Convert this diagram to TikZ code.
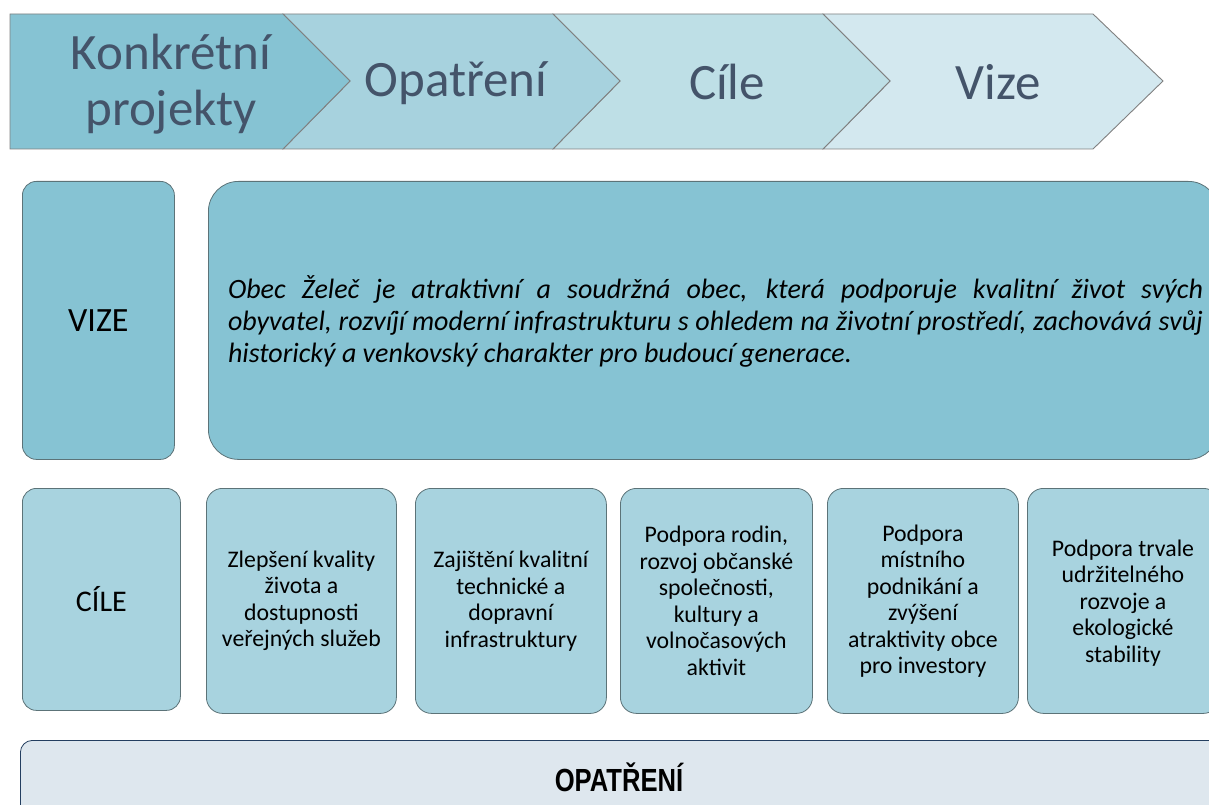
\documentclass[tikz,border=0pt]{standalone}
\usepackage{fontspec}
\setmainfont{Carlito}
\newfontfamily\headfont{Carlito}
\newfontfamily\boldnarrow{Liberation Sans}
\definecolor{cdark}{HTML}{86C3D3}
\definecolor{cgoal}{HTML}{A8D3DF}
\definecolor{ch2}{HTML}{A7D2DE}
\definecolor{ch3}{HTML}{BEDFE6}
\definecolor{ch4}{HTML}{D3E8EF}
\definecolor{cbar}{HTML}{DEE7EE}
\definecolor{cbarline}{HTML}{243F60}
\definecolor{chtext}{HTML}{44546A}
\definecolor{cbox}{HTML}{5C7378}
\definecolor{cchev}{HTML}{808080}
\begin{document}
\begin{tikzpicture}[x=1pt,y=-1pt,
  chev/.style={draw=cchev,line width=0.9pt},
  htext/.style={font=\headfont\fontsize{51}{56}\selectfont,text=chtext,align=center,inner sep=0pt},
  labelbox/.style={draw=cbox,line width=0.8pt,rounded corners=14pt,inner sep=0pt,anchor=north west},
  goalbox/.style={draw=cbox,line width=0.8pt,fill=cgoal,rounded corners=16pt,inner sep=0pt,anchor=north west,align=center,font=\fontsize{23.8}{26.5}\selectfont},
]
\useasboundingbox (0,0) rectangle (1209,805);
% header chevrons
\path[chev,fill=ch4] (1093,14) -- (823,14) -- (890,81) -- (823,149) -- (1093,149) -- (1163,81) -- cycle;
\path[chev,fill=ch3] (823,14) -- (553,14) -- (620,81) -- (553,149) -- (823,149) -- (890,81) -- cycle;
\path[chev,fill=ch2] (553,14) -- (283,14) -- (350,81) -- (283,149) -- (553,149) -- (620,81) -- cycle;
\path[chev,fill=cdark] (10,14) -- (283,14) -- (350,81) -- (283,149) -- (10,149) -- cycle;
\node[htext] (h1) at (171,84) {Konkrétní\\projekty};
\node[htext] (h2) at (456,83) {Opatření};
\node[htext] (h3) at (727,82) {Cíle};
\node[htext] (h4) at (998,82) {Vize};
% vision row
\node[labelbox,fill=cdark,minimum width=152pt,minimum height=278pt,font=\fontsize{34}{40}\selectfont] (vl) at (22,181) {VIZE};
\node[draw=cbox,line width=0.8pt,fill=cdark,rounded corners=30pt,anchor=north west,minimum width=1010pt,minimum height=278pt,inner sep=0pt] (vb) at (208,181) {};
\node[text width=975pt,align=justify,inner sep=0pt,font=\itshape\fontsize{28}{32}\selectfont] (vt) at (715.5,321) {\hyphenpenalty=10000\emergencystretch=30pt Obec Želeč je atraktivní a soudržná obec, která podporuje kvalitní život svých\linebreak obyvatel, rozvíjí moderní infrastrukturu s ohledem na životní prostředí, zachovává svůj\linebreak historický a venkovský charakter pro budoucí generace.};
% goals row
\node[labelbox,fill=cgoal,minimum width=158pt,minimum height=222pt,font=\fontsize{30}{36}\selectfont] (cl) at (22,488) {CÍLE};
\node[goalbox,minimum width=190pt,minimum height=225pt] (g1) at (206,488) {Zlepšení kvality\\života a\\dostupnosti\\veřejných služeb};
\node[goalbox,minimum width=191pt,minimum height=225pt] (g2) at (415,488) {Zajištění kvalitní\\technické a\\dopravní\\infrastruktury};
\node[goalbox,minimum width=192pt,minimum height=225pt] (g3) at (620,488) {Podpora rodin,\\rozvoj občanské\\společnosti,\\kultury a\\volnočasových\\aktivit};
\node[goalbox,minimum width=191pt,minimum height=225pt] (g4) at (827,488) {Podpora\\místního\\podnikání a\\zvýšení\\atraktivity obce\\pro investory};
\node[goalbox,minimum width=192pt,minimum height=225pt] (g5) at (1027,488) {};
\node[align=center,inner sep=0pt,font=\fontsize{23.8}{26.5}\selectfont] (g5t) at (1123,603) {Podpora trvale\\udržitelného\\rozvoje a\\ekologické\\stability};
% bottom bar
\node[draw=cbarline,line width=0.8pt,fill=cbar,rounded corners=12pt,anchor=north west,minimum width=1200pt,minimum height=90pt,inner sep=0pt] (ob) at (20,740) {};
\node[inner sep=0pt,font=\boldnarrow\bfseries\fontsize{32}{36}\selectfont] (ot) at (619,777) {\scalebox{0.8}[1]{OPATŘENÍ}};
\end{tikzpicture}
\end{document}
